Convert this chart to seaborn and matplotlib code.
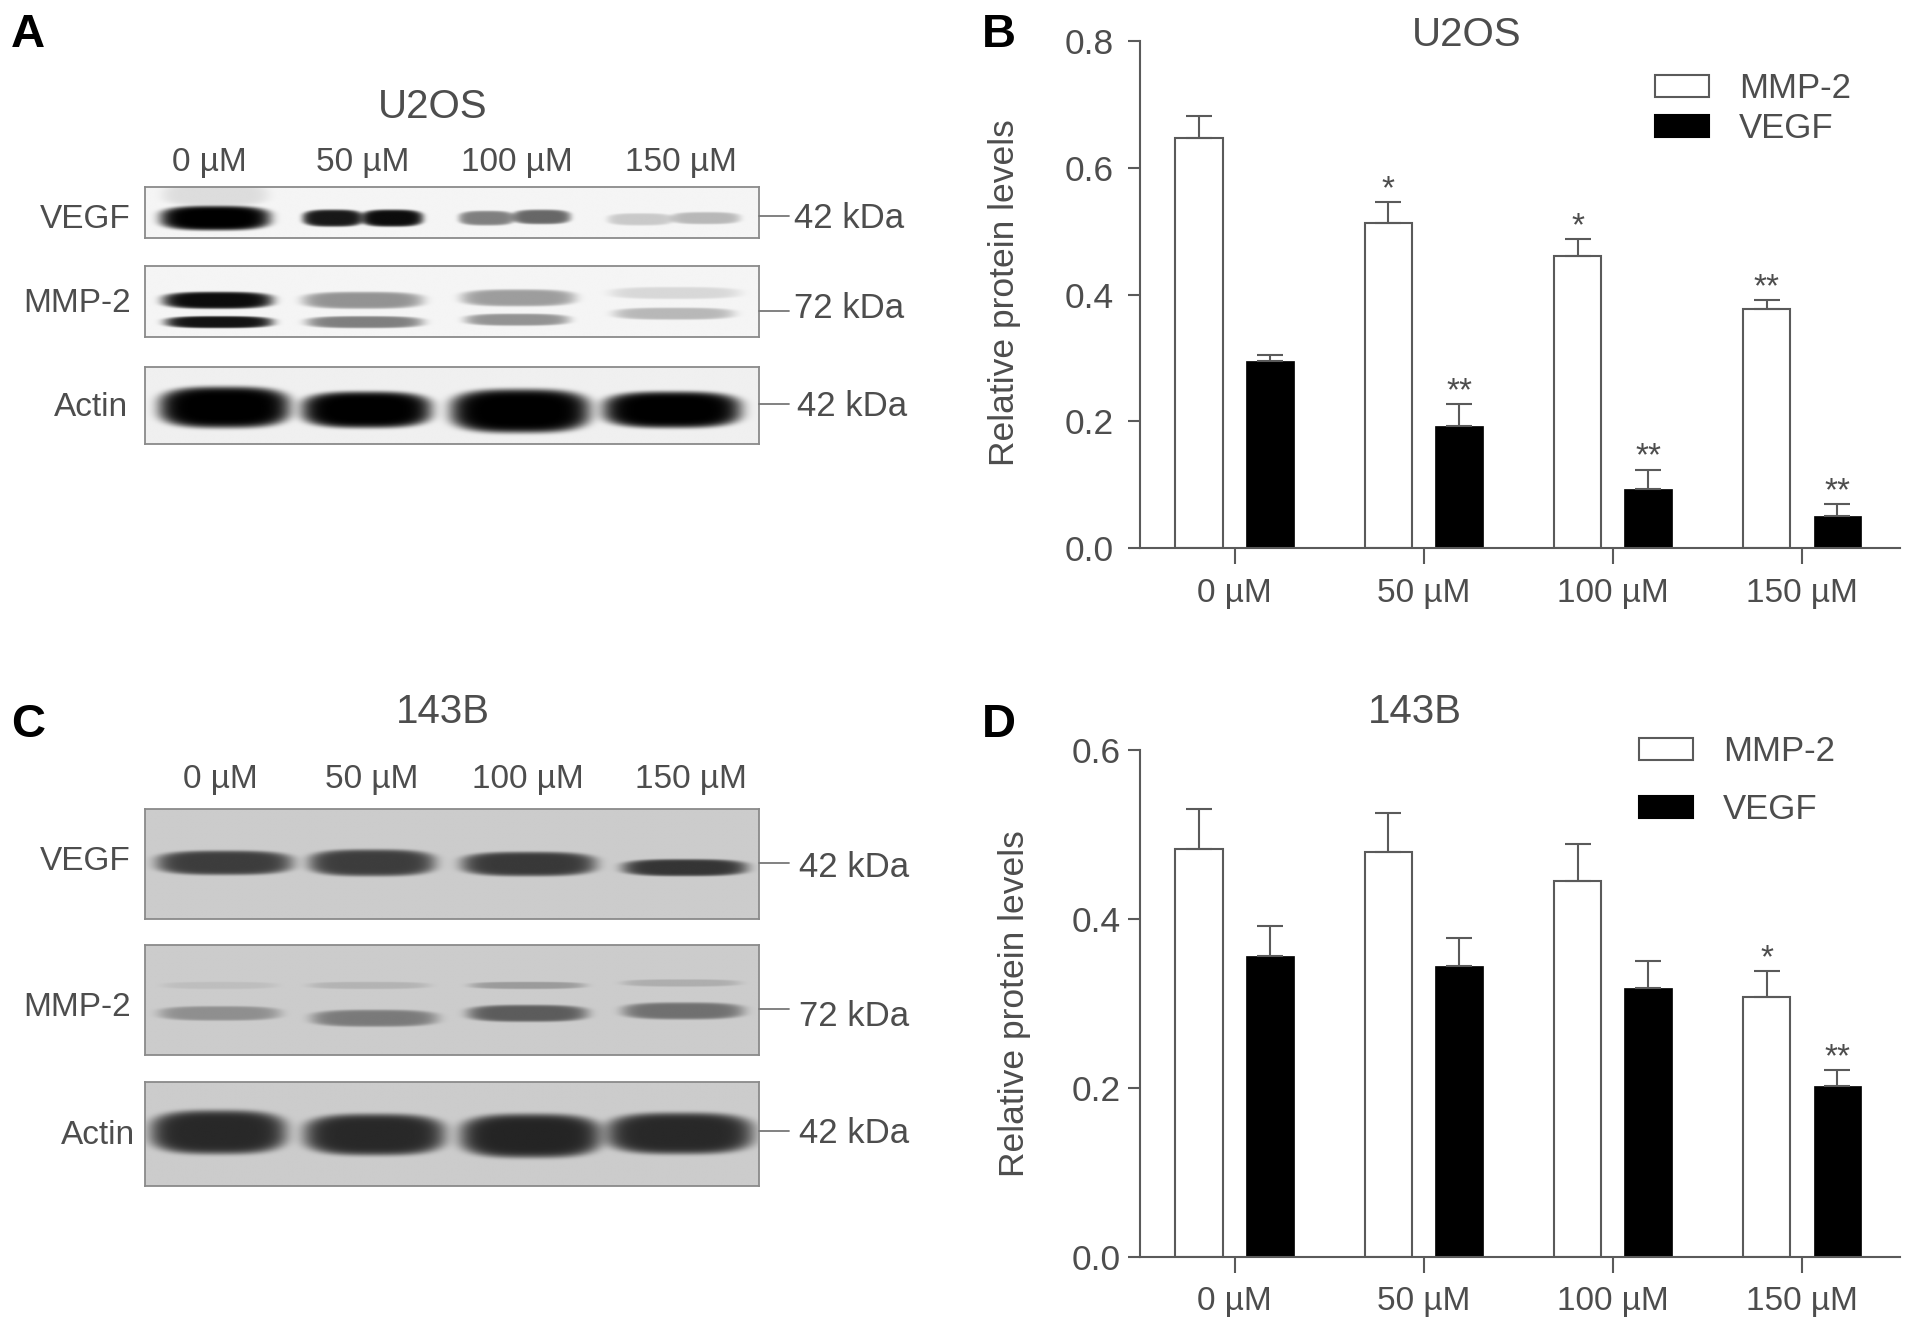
import numpy as np
import pandas as pd
import matplotlib
matplotlib.use("Agg")
import matplotlib.pyplot as plt
import seaborn as sns
from matplotlib.lines import Line2D

doses = ["0 µM", "50 µM", "100 µM", "150 µM"]
proteins = ["MMP-2", "VEGF"]

# panel B, U2OS
u2os_mmp = [0.648, 0.513, 0.461, 0.378]
u2os_mmp_err = [0.034, 0.033, 0.027, 0.013]
u2os_vegf = [0.295, 0.193, 0.093, 0.050]
u2os_vegf_err = [0.010, 0.034, 0.030, 0.019]
u2os_mmp_stars = ["", "*", "*", "**"]
u2os_vegf_stars = ["", "**", "**", "**"]

# panel D, 143B
b143_mmp = [0.483, 0.479, 0.445, 0.308]
b143_mmp_err = [0.048, 0.047, 0.044, 0.030]
b143_vegf = [0.356, 0.344, 0.318, 0.202]
b143_vegf_err = [0.036, 0.033, 0.032, 0.019]
b143_mmp_stars = ["", "", "", "*"]
b143_vegf_stars = ["", "", "", "**"]

# blot bands: left, right, y centre, half height, darkness (px of the 1568 wide view)
a_vegf = [(131, 222, 179, 10, 1.0), (133, 220, 160, 9, 0.1), (248, 298, 179, 7, 0.9), (296, 347, 179, 7, 0.95),
          (376, 422, 179, 6, 0.48), (420, 468, 178, 6, 0.58), (498, 552, 180, 5, 0.18), (550, 607, 179, 5, 0.25)]
a_mmp = [(133, 224, 246, 7, 0.95), (135, 224, 264, 5, 0.92), (248, 347, 246, 7, 0.4), (251, 347, 264, 5, 0.48),
         (378, 472, 244, 7, 0.36), (381, 467, 262, 5, 0.4), (500, 607, 240, 5, 0.12), (503, 602, 257, 5, 0.25)]
a_actin = [(130, 238, 334, 17, 1.0), (247, 354, 336, 15, 1.0), (369, 484, 337, 18, 1.0), (494, 608, 336, 15, 1.0)]
c_vegf = [(128, 240, 707, 10, 0.7), (253, 357, 707, 11, 0.7), (378, 489, 708, 10, 0.72), (510, 613, 711, 7, 0.74)]
c_mmp = [(133, 227, 808, 3, 0.07), (253, 352, 808, 3, 0.12), (385, 480, 808, 3, 0.24), (510, 607, 806, 3, 0.15),
         (130, 230, 831, 6, 0.3), (255, 359, 835, 7, 0.4), (383, 482, 831, 7, 0.55), (510, 610, 829, 7, 0.45)]
c_actin = [(123, 235, 928, 18, 0.8), (249, 365, 930, 17, 0.8), (377, 493, 931, 18, 0.82), (497, 618, 929, 17, 0.8)]

W, H = 1568, 1091
GREY = "#4d4d4d"
LINE = "#5a5a5a"

sns.set_theme(style="ticks")
plt.rcParams["font.family"] = ["Liberation Sans", "DejaVu Sans"]

fig = plt.figure(figsize=(19.13, 13.31), dpi=100, facecolor="white")


def px_axes(x0, y0, x1, y1):
    return fig.add_axes([x0 / W, 1 - y1 / H, (x1 - x0) / W, (y1 - y0) / H])


def label(x, y, s, size=24, ha="center", color=GREY, **kw):
    fig.text(x / W, 1 - (y + 2) / H, s, fontsize=size, ha=ha, va="center", color=color, **kw)


def blot(box, bands, bg):
    x0, y0, x1, y1 = box
    xs, ys = np.meshgrid(np.linspace(x0, x1, (x1 - x0) * 2), np.linspace(y0, y1, (y1 - y0) * 2))
    keep = np.ones_like(xs)
    for left, right, cy, hh, dark in bands:
        cx, hw = (left + right) / 2, (right - left) / 2
        r = np.abs((xs - cx) / hw) ** 3 + np.abs((ys - cy) / hh) ** 3
        keep *= 1 - dark * np.exp(-r ** 3)
    ax = px_axes(*box)
    ax.imshow(bg * keep, cmap="gray", vmin=0, vmax=1, aspect="auto", interpolation="bilinear")
    ax.set_xticks([])
    ax.set_yticks([])
    for s in ax.spines.values():
        s.set_color("#8a8a8a")
        s.set_linewidth(1.3)
    return ax


def kda(y_line, y_text, x_text, s):
    fig.add_artist(Line2D([622 / W, 647 / W], [1 - y_line / H] * 2, color="#777777", lw=1.3))
    label(x_text, y_text, s, size=25, ha="left")


def bars(box, ymax, mmp, mmp_err, vegf, vegf_err, mmp_stars, vegf_stars, leg_anchor, leg_space, tick_pad):
    ax = px_axes(*box)
    df = pd.DataFrame({
        "dose": doses * 2,
        "protein": [proteins[0]] * 4 + [proteins[1]] * 4,
        "level": mmp + vegf,
    })
    sns.barplot(data=df, x="dose", y="level", hue="protein", palette=["white", "black"],
                width=0.748, gap=0.327, edgecolor=LINE, linewidth=1.5, errorbar=None, ax=ax)
    for cont, vals, errs, stars in zip(ax.containers, [mmp, vegf], [mmp_err, vegf_err], [mmp_stars, vegf_stars]):
        xs = [p.get_x() + p.get_width() / 2 for p in cont]
        ax.errorbar(xs, vals, yerr=[[0] * 4, errs], fmt="none", ecolor=LINE, elinewidth=1.5,
                    capsize=9.5, capthick=1.5, zorder=3)
        for x, v, e, st in zip(xs, vals, errs, stars):
            if st:
                ax.annotate(st, (x, v + e), xytext=(0, 3), textcoords="offset points",
                            ha="center", va="baseline", fontsize=24, color=GREY)
    for p in ax.containers[1]:
        p.set_edgecolor("black")
        p.set_linewidth(0.5)
    ax.set_xlim(-0.503, 3.516)
    ax.set_ylim(0, ymax)
    ax.set_yticks(np.arange(0, ymax + 0.01, 0.2))
    ax.set_yticklabels([f"{t:.1f}" for t in np.arange(0, ymax + 0.01, 0.2)])
    ax.tick_params(axis="y", length=9, width=1.5, color=LINE, labelsize=25.5, labelcolor=GREY, pad=tick_pad)
    ax.tick_params(axis="x", length=11.5, width=1.5, color=LINE, labelsize=24, labelcolor=GREY, pad=10)
    ax.set_xlabel("")
    ax.set_ylabel("Relative protein levels", fontsize=25.5, color=GREY, va="center")
    sns.despine(ax=ax)
    for s in ["left", "bottom"]:
        ax.spines[s].set_color(LINE)
        ax.spines[s].set_linewidth(1.5)
    sns.move_legend(ax, "upper left", bbox_to_anchor=leg_anchor, title=None, frameon=False, fontsize=25,
                    handlelength=1.55, handleheight=0.6, handletextpad=0.88, labelspacing=leg_space,
                    labelcolor=GREY, borderpad=0, borderaxespad=0)
    ax.get_legend().legend_handles[1].set_edgecolor("black")
    return ax


# A
blot((119, 153, 622, 195), a_vegf, 0.96)
blot((119, 218, 622, 276), a_mmp, 0.96)
blot((119, 301, 622, 364), a_actin, 0.94)
label(355, 86, "U2OS", size=29)
for x, d in zip([172, 297, 424, 558], doses):
    label(x, 131, d)
label(107, 178, "VEGF", ha="right")
label(107, 247, "MMP-2", ha="right")
label(105, 332, "Actin", ha="right")
kda(177, 177, 651, "42 kDa")
kda(255, 251, 651, "72 kDa")
kda(331, 331, 653, "42 kDa")

# C
blot((119, 663, 622, 753), c_vegf, 0.80)
blot((119, 775, 622, 865), c_mmp, 0.80)
blot((119, 887, 622, 972), c_actin, 0.80)
label(363, 582, "143B", size=29)
for x, d in zip([181, 305, 433, 566], doses):
    label(x, 637, d)
label(107, 704, "VEGF", ha="right")
label(107, 824, "MMP-2", ha="right")
label(111, 929, "Actin", ha="right")
kda(707, 709, 655, "42 kDa")
kda(827, 831, 655, "72 kDa")
kda(927, 927, 655, "42 kDa")

# B and D
ax_b = bars((934, 34, 1557, 449), 0.8, u2os_mmp, u2os_mmp_err, u2os_vegf, u2os_vegf_err,
            u2os_mmp_stars, u2os_vegf_stars, (0.678, 0.94), 0.2, 9.7)
ax_b.yaxis.set_label_coords(-0.177, 0.504)
label(1202, 27, "U2OS", size=29)

ax_d = bars((934, 615, 1557, 1030), 0.6, b143_mmp, b143_mmp_err, b143_vegf, b143_vegf_err,
            b143_mmp_stars, b143_vegf_stars, (0.657, 1.03), 0.72, 4.5)
ax_d.yaxis.set_label_coords(-0.165, 0.499)
label(1160, 582, "143B", size=29)

for x, y, s in [(23, 27, "A"), (819, 27, "B"), (23, 592, "C"), (819, 592, "D")]:
    label(x, y, s, size=34, color="black", fontweight="bold")

fig.savefig("out.png", dpi=100)
